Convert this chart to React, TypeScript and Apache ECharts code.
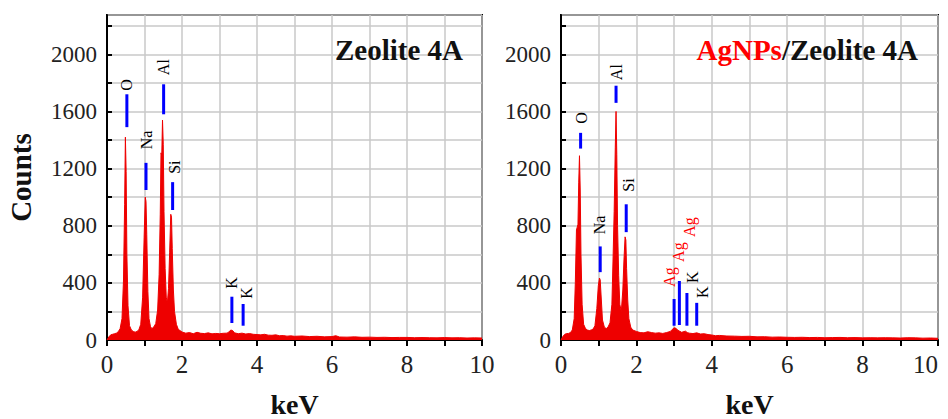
import React, { useEffect, useRef } from "react";
import * as echarts from "echarts";

// Spectrum of Zeolite 4A: [keV, counts]
const zeoliteSpectrum: number[][] = [
  [0.0, 0], [0.05, 22], [0.1, 36], [0.15, 40], [0.2, 44], [0.25, 48], [0.3, 58], [0.35, 80],
  [0.4, 150], [0.44, 420], [0.47, 950], [0.49, 1420], [0.51, 1180], [0.53, 600], [0.56, 240],
  [0.6, 100], [0.65, 70], [0.7, 60], [0.75, 55], [0.8, 60], [0.85, 72], [0.9, 110], [0.95, 300],
  [0.99, 720], [1.02, 1000], [1.04, 970], [1.06, 740], [1.09, 340], [1.12, 150], [1.16, 92],
  [1.2, 80], [1.25, 92], [1.3, 115], [1.35, 210], [1.39, 460], [1.42, 880], [1.44, 1310],
  [1.46, 1290], [1.48, 1540], [1.5, 1370], [1.52, 900], [1.55, 500], [1.58, 300], [1.61, 260],
  [1.64, 360], [1.67, 610], [1.7, 880], [1.72, 860], [1.74, 640], [1.77, 350], [1.8, 200],
  [1.85, 110], [1.9, 75], [2.0, 56], [2.1, 48], [2.2, 52], [2.3, 44], [2.4, 54], [2.5, 47],
  [2.6, 45], [2.7, 50], [2.8, 43], [2.9, 46], [3.0, 44], [3.1, 47], [3.2, 48], [3.25, 56],
  [3.3, 70], [3.35, 66], [3.4, 50], [3.5, 44], [3.6, 48], [3.7, 42], [3.8, 45], [3.9, 40],
  [4.0, 38], [4.1, 36], [4.2, 40], [4.3, 34], [4.4, 33], [4.5, 36], [4.6, 30], [4.7, 31],
  [4.8, 27], [4.9, 29], [5.0, 26], [5.2, 28], [5.4, 24], [5.6, 26], [5.8, 22], [6.0, 24],
  [6.1, 30], [6.2, 21], [6.4, 20], [6.6, 22], [6.8, 19], [7.0, 20], [7.2, 18], [7.4, 19],
  [7.6, 17], [7.8, 18], [8.0, 18], [8.2, 16], [8.4, 17], [8.6, 16], [8.8, 15], [9.0, 17],
  [9.2, 15], [9.4, 16], [9.6, 14], [9.8, 15], [10.0, 14],
];

// Spectrum of AgNPs/Zeolite 4A: [keV, counts]
const agSpectrum: number[][] = [
  [0.0, 0], [0.05, 25], [0.1, 40], [0.15, 45], [0.2, 46], [0.25, 52], [0.3, 70], [0.35, 150],
  [0.38, 400], [0.41, 770], [0.43, 790], [0.45, 810], [0.47, 1100], [0.49, 1290], [0.51, 1050],
  [0.53, 600], [0.56, 250], [0.6, 110], [0.65, 80], [0.7, 70], [0.75, 66], [0.8, 70], [0.85, 76],
  [0.9, 100], [0.95, 220], [0.99, 380], [1.02, 434], [1.04, 420], [1.07, 280], [1.1, 140],
  [1.15, 90], [1.2, 80], [1.25, 92], [1.3, 120], [1.35, 250], [1.38, 560], [1.41, 900],
  [1.44, 1350], [1.46, 1600], [1.48, 1300], [1.5, 800], [1.53, 450], [1.56, 250], [1.6, 200],
  [1.64, 350], [1.67, 560], [1.7, 722], [1.72, 700], [1.74, 500], [1.77, 280], [1.8, 150],
  [1.85, 90], [1.9, 70], [2.0, 60], [2.1, 52], [2.2, 50], [2.3, 58], [2.4, 52], [2.5, 48],
  [2.6, 50], [2.7, 46], [2.8, 52], [2.9, 60], [2.95, 74], [3.0, 85], [3.05, 82], [3.1, 68],
  [3.2, 54], [3.3, 62], [3.35, 52], [3.4, 48], [3.5, 45], [3.6, 50], [3.7, 42], [3.8, 44],
  [3.9, 38], [4.0, 35], [4.1, 30], [4.2, 32], [4.4, 28], [4.6, 27], [4.8, 25], [5.0, 26],
  [5.2, 22], [5.4, 23], [5.6, 20], [5.8, 21], [6.0, 19], [6.2, 18], [6.4, 19], [6.6, 17],
  [6.8, 18], [7.0, 16], [7.2, 17], [7.4, 18], [7.6, 16], [7.8, 17], [8.0, 15], [8.2, 16],
  [8.4, 15], [8.6, 16], [8.8, 15], [9.0, 14], [9.2, 16], [9.4, 15], [9.6, 13], [9.8, 14],
  [10.0, 12],
];

// Blue peak markers: [keV, lower counts, upper counts]
const zeoliteMarkers: number[][] = [
  [0.53, 1490, 1720], [1.04, 1050, 1240], [1.51, 1580, 1790], [1.75, 910, 1105],
  [3.33, 119, 303], [3.63, 100, 252],
];
const agMarkers: number[][] = [
  [0.52, 1340, 1450], [1.04, 475, 655], [1.46, 1660, 1780], [1.73, 755, 950],
  [3.0, 100, 287], [3.14, 105, 413], [3.34, 100, 329], [3.6, 100, 260],
];

// Element labels: [keV, counts (centre)] with texts and colours
const zeoliteLabelPos: number[][] = [
  [0.53, 1785], [1.04, 1400], [1.5, 1910], [1.8, 1210], [3.33, 400], [3.71, 330],
];
const zeoliteLabelText = ["O", "Na", "Al", "Si", "K", "K"];
const zeoliteLabelColor = ["#000", "#000", "#000", "#000", "#000", "#000"];

const agLabelPos: number[][] = [
  [0.55, 1555], [1.01, 805], [1.48, 1875], [1.78, 1085],
  [2.89, 440], [3.11, 615], [3.4, 790], [3.5, 440], [3.76, 335],
];
const agLabelText = ["O", "Na", "Al", "Si", "Ag", "Ag", "Ag", "K", "K"];
const agLabelColor = ["#000", "#000", "#000", "#000", "#f00", "#f00", "#f00", "#000", "#000"];

const X_MIN = 0;
const X_MAX = 10;
const Y_MIN = 0;
const Y_MAX = 2275;

const SERIF = "Liberation Serif";

function markerSeries(data: number[][], idx: number) {
  return {
    type: "custom",
    xAxisIndex: idx,
    yAxisIndex: idx,
    data,
    encode: { x: 0, y: [1, 2] },
    z: 5,
    renderItem: (params: any, api: any) => {
      const p1 = api.coord([api.value(0), api.value(1)]);
      const p2 = api.coord([api.value(0), api.value(2)]);
      return {
        type: "line",
        shape: { x1: p1[0], y1: p1[1], x2: p2[0], y2: p2[1] },
        style: { stroke: "#0000ff", lineWidth: 3 },
      };
    },
  };
}

function labelSeries(data: number[][], texts: string[], colors: string[], idx: number) {
  return {
    type: "custom",
    xAxisIndex: idx,
    yAxisIndex: idx,
    data,
    encode: { x: 0, y: 1 },
    z: 6,
    renderItem: (params: any, api: any) => {
      const p = api.coord([api.value(0), api.value(1)]);
      const i = params.dataIndex;
      return {
        type: "text",
        x: p[0],
        y: p[1],
        rotation: Math.PI / 2,
        style: {
          text: texts[i],
          fill: colors[i],
          fontFamily: SERIF,
          fontSize: 16,
          align: "center",
          verticalAlign: "middle",
        },
      };
    },
  };
}

function spectrumSeries(data: number[][], idx: number) {
  return {
    type: "line",
    xAxisIndex: idx,
    yAxisIndex: idx,
    data,
    showSymbol: false,
    symbol: "none",
    lineStyle: { color: "#ee0000", width: 1 },
    areaStyle: { color: "#ee0000", opacity: 1 },
    z: 3,
  };
}

function xAxisCfg(idx: number) {
  return {
    type: "value",
    gridIndex: idx,
    min: X_MIN,
    max: X_MAX,
    interval: 1,
    name: "keV",
    nameLocation: "middle",
    nameGap: 50,
    nameTextStyle: { fontFamily: SERIF, fontWeight: "bold", fontSize: 28, color: "#111" },
    axisLine: { show: true, lineStyle: { color: "#000", width: 2 } },
    axisTick: { show: true, inside: false, length: 6, lineStyle: { color: "#000", width: 2 } },
    axisLabel: {
      margin: 12,
      fontFamily: SERIF,
      fontSize: 25,
      color: "#222",
      alignMaxLabel: idx === 1 ? "right" : "center",
      formatter: (v: number) => (v % 2 === 0 ? String(v) : ""),
    },
    splitLine: { show: true, lineStyle: { color: "#c8c8c8", width: 1.5 } },
  };
}

function yAxisCfg(idx: number) {
  return {
    type: "value",
    gridIndex: idx,
    min: Y_MIN,
    max: Y_MAX,
    interval: 200,
    name: idx === 0 ? "Counts" : "",
    nameLocation: "middle",
    nameRotate: 90,
    nameGap: 72,
    nameTextStyle: { fontFamily: SERIF, fontWeight: "bold", fontSize: 29, color: "#111" },
    axisLine: { show: true, lineStyle: { color: "#000", width: 2 } },
    axisTick: { show: true, inside: true, length: 5, lineStyle: { color: "#000", width: 2 } },
    axisLabel: {
      margin: 10,
      fontFamily: SERIF,
      fontSize: 23,
      color: "#222",
      showMaxLabel: false,
      formatter: (v: number) => (v % 400 === 0 ? String(v) : ""),
    },
    splitLine: { show: true, lineStyle: { color: "#c8c8c8", width: 1.5 } },
  };
}

export default function App() {
  const ref = useRef<HTMLDivElement>(null);
  useEffect(() => {
    if (!ref.current) return;
    const chart = echarts.init(ref.current, undefined, { renderer: "svg" });
    chart.setOption({
      animation: false,
      backgroundColor: "#fff",
      title: [
        {
          text: "Zeolite 4A",
          right: 480,
          top: 30,
          textStyle: { fontFamily: SERIF, fontWeight: "bold", fontSize: 29, color: "#111" },
        },
        {
          text: "{a|AgNPs}{b|/Zeolite 4A}",
          right: 25,
          top: 30,
          textStyle: {
            fontFamily: SERIF,
            fontWeight: "bold",
            fontSize: 29,
            rich: {
              a: { fontFamily: SERIF, fontWeight: "bold", fontSize: 29, color: "#ff0000" },
              b: { fontFamily: SERIF, fontWeight: "bold", fontSize: 29, color: "#111" },
            },
          },
        },
      ],
      grid: [
        { left: 107, top: 15, width: 375, height: 325, outerBoundsMode: "none", containLabel: false, show: true, borderColor: "#000", borderWidth: 2, backgroundColor: "#fff" },
        { left: 561, top: 15, width: 377, height: 325, outerBoundsMode: "none", containLabel: false, show: true, borderColor: "#000", borderWidth: 2, backgroundColor: "#fff" },
      ],
      xAxis: [xAxisCfg(0), xAxisCfg(1)],
      yAxis: [yAxisCfg(0), yAxisCfg(1)],
      series: [
        spectrumSeries(zeoliteSpectrum, 0),
        spectrumSeries(agSpectrum, 1),
        markerSeries(zeoliteMarkers, 0),
        markerSeries(agMarkers, 1),
        labelSeries(zeoliteLabelPos, zeoliteLabelText, zeoliteLabelColor, 0),
        labelSeries(agLabelPos, agLabelText, agLabelColor, 1),
      ],
    });
    return () => chart.dispose();
  }, []);
  return (
    <div
      ref={ref}
      style={{ position: "absolute", left: 0, top: 0, width: 948, height: 419 }}
    />
  );
}
